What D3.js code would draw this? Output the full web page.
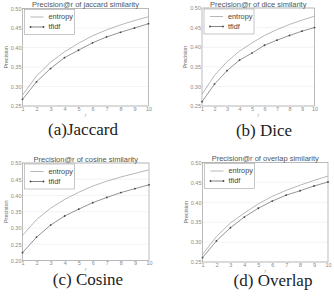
<!DOCTYPE html>
<html>
<head>
<meta charset="utf-8">
<script src="https://cdn.jsdelivr.net/npm/d3@7"></script>
<style>
  body { margin: 0; background: #fff; }
  svg { display: block; }
  text { font-family: "Liberation Sans", Arial, sans-serif; }
</style>
</head>
<body>
<svg id="chart"></svg>
<script>
const svgWidth = 334;
const svgHeight = 296;

// x values (r) shared by all panels
const rValues = [1, 2, 3, 4, 5, 6, 7, 8, 9, 10];

// precision values
const jaccardEntropy = [0.278, 0.327, 0.362, 0.389, 0.411, 0.430, 0.445, 0.458, 0.469, 0.479];
const jaccardTfidf   = [0.267, 0.312, 0.346, 0.374, 0.393, 0.412, 0.427, 0.439, 0.450, 0.461];
const diceEntropy    = [0.280, 0.328, 0.363, 0.390, 0.411, 0.430, 0.445, 0.458, 0.469, 0.479];
const diceTfidf      = [0.261, 0.306, 0.340, 0.367, 0.385, 0.405, 0.418, 0.430, 0.441, 0.450];
const cosineEntropy  = [0.277, 0.326, 0.361, 0.388, 0.410, 0.429, 0.444, 0.457, 0.468, 0.479];
const cosineTfidf    = [0.224, 0.272, 0.309, 0.337, 0.358, 0.378, 0.394, 0.409, 0.421, 0.433];
const overlapEntropy = [0.269, 0.314, 0.348, 0.373, 0.396, 0.415, 0.430, 0.443, 0.455, 0.466];
const overlapTfidf   = [0.261, 0.303, 0.336, 0.363, 0.385, 0.403, 0.418, 0.429, 0.441, 0.451];

const yTicksDefault = [0.25, 0.30, 0.35, 0.40, 0.45, 0.50];
const yTicksCosine  = [0.20, 0.25, 0.30, 0.35, 0.40, 0.45, 0.50];
const seriesNames = ["entropy", "tfidf"];

const svg = d3.select("#chart").attr("width", svgWidth).attr("height", svgHeight);

const panels = [
  { title: "Precision@r of jaccard similarity", caption: "(a)Jaccard",
    entropy: jaccardEntropy, tfidf: jaccardTfidf, yTicks: yTicksDefault,
    box: { left: 22.5, right: 148.5, top: 8.5, bottom: 106 }, capX: 83, capY: 135 },
  { title: "Precision@r of dice similarity", caption: "(b) Dice",
    entropy: diceEntropy, tfidf: diceTfidf, yTicks: yTicksDefault,
    box: { left: 202, right: 314.5, top: 8, bottom: 106 }, capX: 264, capY: 136 },
  { title: "Precision@r of cosine similarity", caption: "(c) Cosine",
    entropy: cosineEntropy, tfidf: cosineTfidf, yTicks: yTicksCosine,
    box: { left: 22.5, right: 149, top: 163, bottom: 260.5 }, capX: 88, capY: 285 },
  { title: "Precision@r of overlap similarity", caption: "(d) Overlap",
    entropy: overlapEntropy, tfidf: overlapTfidf, yTicks: yTicksDefault,
    box: { left: 202.5, right: 328, top: 162.5, bottom: 262 }, capX: 273, capY: 286 },
];

const drawPanel = (p) => {
  const b = p.box;
  const w = b.right - b.left;
  const h = b.bottom - b.top;
  const g = svg.append("g").attr("transform", `translate(${b.left},${b.top})`);

  const xScale = d3.scaleLinear().domain([1, 10]).range([0, w]);
  const yScale = d3.scaleLinear()
    .domain([p.yTicks[0], p.yTicks[p.yTicks.length - 1]])
    .range([h, 0]);

  // horizontal grid lines
  g.append("g")
    .selectAll("line")
    .data(p.yTicks)
    .enter()
    .append("line")
    .attr("x1", 0).attr("x2", w)
    .attr("y1", (d) => yScale(d)).attr("y2", (d) => yScale(d))
    .attr("stroke", "#ebebeb")
    .attr("stroke-width", 0.6);

  // axes
  const xAxis = g.append("g")
    .attr("transform", `translate(0,${h})`)
    .call(d3.axisBottom(xScale).tickValues(rValues).tickSize(0).tickPadding(1));
  const yAxis = g.append("g")
    .call(d3.axisLeft(yScale).tickValues(p.yTicks).tickSize(0).tickPadding(1)
      .tickFormat(d3.format(".2f")));
  [xAxis, yAxis].forEach((ax) => {
    ax.select(".domain").remove();
    ax.selectAll("text").attr("fill", "#8a8a8a").style("font-size", "5.5px");
  });

  // frame
  g.append("rect")
    .attr("width", w).attr("height", h)
    .attr("fill", "none")
    .attr("stroke", "#a0a0a0")
    .attr("stroke-width", 0.7);

  const line = d3.line()
    .x((d, i) => xScale(rValues[i]))
    .y((d) => yScale(d));

  g.append("path")
    .datum(p.entropy)
    .attr("d", line)
    .attr("fill", "none")
    .attr("stroke", "#a5a5a5")
    .attr("stroke-width", 0.8);

  g.append("path")
    .datum(p.tfidf)
    .attr("d", line)
    .attr("fill", "none")
    .attr("stroke", "#666")
    .attr("stroke-width", 0.7);

  g.append("g")
    .selectAll("circle")
    .data(p.tfidf)
    .enter()
    .append("circle")
    .attr("cx", (d, i) => xScale(rValues[i]))
    .attr("cy", (d) => yScale(d))
    .attr("r", 0.9)
    .attr("fill", "#444");

  // title
  g.append("text")
    .attr("x", w / 2).attr("y", -1.5)
    .attr("text-anchor", "middle")
    .attr("fill", "#555")
    .style("font-size", "7.5px")
    .text(p.title);

  // axis labels
  g.append("text")
    .attr("x", w / 2).attr("y", h + 10.5)
    .attr("text-anchor", "middle")
    .attr("fill", "#888")
    .style("font-size", "4.5px")
    .style("font-style", "italic")
    .text("r");
  g.append("text")
    .attr("transform", `translate(${-15},${h / 2}) rotate(-90)`)
    .attr("text-anchor", "middle")
    .attr("fill", "#666")
    .style("font-size", "5.5px")
    .text("Precision");

  // legend
  const leg = g.append("g").attr("transform", "translate(2,1)");
  leg.append("rect")
    .attr("width", 50).attr("height", 25)
    .attr("fill", "#fff")
    .attr("stroke", "#a0a0a0")
    .attr("stroke-width", 0.6);
  seriesNames.forEach((name, i) => {
    const ly = 7.5 + i * 10;
    leg.append("line")
      .attr("x1", 6).attr("x2", 19)
      .attr("y1", ly).attr("y2", ly)
      .attr("stroke", i === 0 ? "#a5a5a5" : "#666")
      .attr("stroke-width", 0.8);
    if (i === 1) {
      [6, 19].forEach((cx) => {
        leg.append("circle").attr("cx", cx).attr("cy", ly).attr("r", 0.9).attr("fill", "#444");
      });
    }
    leg.append("text")
      .attr("x", 24).attr("y", ly + 2.4)
      .attr("fill", "#444")
      .style("font-size", "7.3px")
      .text(name);
  });

  // caption
  svg.append("text")
    .attr("x", p.capX).attr("y", p.capY)
    .attr("text-anchor", "middle")
    .attr("fill", "#222")
    .style("font-family", "'Liberation Serif', 'DejaVu Serif', serif")
    .style("font-size", "17px")
    .text(p.caption);
};

panels.forEach(drawPanel);
</script>
</body>
</html>
